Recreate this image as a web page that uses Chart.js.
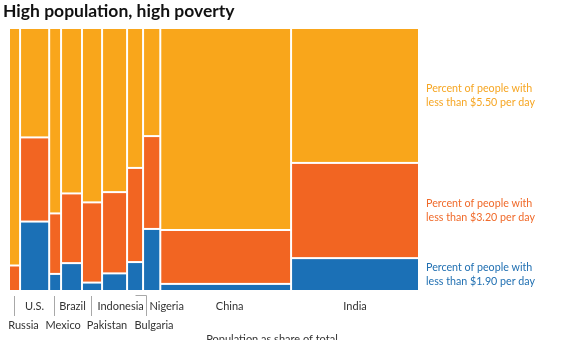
<!DOCTYPE html>
<html>
<head>
<meta charset="utf-8">
<title>High population, high poverty</title>
<script src="https://cdn.jsdelivr.net/npm/chart.js@4.4.1/dist/chart.umd.min.js"></script>
<style>
  html, body { margin: 0; padding: 0; background: #fff; }
  canvas { display: block; }
</style>
</head>
<body>
<canvas id="chartCanvas" width="563" height="340"></canvas>
<script>
// countries in drawing order, left to right
const countries = ["Russia", "U.S.", "Mexico", "Brazil", "Pakistan", "Indonesia", "Bulgaria", "Nigeria", "China", "India"];
// column width: population as share of total (%)
const popShare = [2.7, 7.1, 2.9, 5.1, 4.9, 6.1, 3.9, 4.2, 31.9, 31.2];
// stacked segments, bottom to top (% of each country's people)
const below190 = [0, 26.4, 6.5, 10.6, 3.2, 6.7, 11.0, 23.6, 2.7, 12.5];
const from190to320 = [9.7, 32.0, 23.0, 26.5, 30.5, 30.9, 35.8, 35.3, 20.5, 36.2];
const above320 = [90.3, 41.6, 70.5, 62.9, 66.3, 62.4, 53.2, 41.1, 76.8, 51.3];

const seriesNames = [
  ["Percent of people with", "less than $1.90 per day"],
  ["Percent of people with", "less than $3.20 per day"],
  ["Percent of people with", "less than $5.50 per day"]
];
const fillColors = ["#1b70b6", "#f26522", "#f9a61b"];
const textColors = ["#2170b2", "#f06a2a", "#f6a623"];

// where each country name sits under the axis
const labelRow = [2, 1, 2, 1, 2, 1, 2, 1, 1, 1];
const labelNudge = [9, 0, 8, 1, 15, 6, 19, 15, 4, 0];

const FONT = "Lato, 'Open Sans', sans-serif";

const mosaicPlugin = {
  id: "mosaic",
  afterDraw(chart) {
    const ctx = chart.ctx;
    const xs = chart.scales.x;
    const ys = chart.scales.y;
    const area = chart.chartArea;
    const segments = [below190, from190to320, above320];

    ctx.save();

    // title
    ctx.fillStyle = "#111";
    ctx.font = "bold 17.5px " + FONT;
    ctx.textBaseline = "middle";
    ctx.textAlign = "left";
    ctx.fillText("High population, high poverty", 3, 11);

    // rectangles
    let start = 0;
    const centers = [];
    countries.forEach((c, i) => {
      const x0 = xs.getPixelForValue(start);
      const x1 = xs.getPixelForValue(start + popShare[i]);
      centers.push((x0 + x1) / 2);
      let base = 0;
      segments.forEach((seg, s) => {
        const v = seg[i];
        if (v > 0) {
          const yb = ys.getPixelForValue(base);
          const yt = ys.getPixelForValue(base + v);
          ctx.fillStyle = fillColors[s];
          ctx.fillRect(x0 + 1, yt + 1, x1 - x0 - 2, yb - yt - 2);
        }
        base += v;
      });
      start += popShare[i];
    });

    // country names and leader lines
    ctx.font = "11px " + FONT;
    ctx.textAlign = "center";
    ctx.strokeStyle = "#a8a8a8";
    ctx.lineWidth = 1;
    countries.forEach((c, i) => {
      const cx = centers[i];
      ctx.fillStyle = "#333";
      if (labelRow[i] === 1) {
        ctx.fillText(c, cx + labelNudge[i], 306);
      } else {
        ctx.fillText(c, cx + labelNudge[i], 325);
        ctx.beginPath();
        if (c === "Bulgaria") {
          const lx = Math.round(cx + 11) + 0.5;
          ctx.moveTo(Math.round(cx) + 0.5, 295.5);
          ctx.lineTo(lx, 295.5);
          ctx.lineTo(lx, 316);
        } else {
          const lx = Math.round(cx - 1) + 0.5;
          ctx.moveTo(lx, 296);
          ctx.lineTo(lx, 316);
        }
        ctx.stroke();
      }
    });

    // axis caption
    ctx.fillStyle = "#333";
    ctx.fillText("Population as share of total", 272, 339);

    // series names beside the last column
    const last = countries.length - 1;
    let base = 0;
    ctx.textAlign = "left";
    ctx.font = "10.7px " + FONT;
    segments.forEach((seg, s) => {
      const v = seg[last];
      const mid = ys.getPixelForValue(base + v / 2);
      ctx.fillStyle = textColors[s];
      ctx.fillText(seriesNames[s][0], area.right + 7, mid - 7);
      ctx.fillText(seriesNames[s][1], area.right + 7, mid + 7);
      base += v;
    });

    ctx.restore();
  }
};

new Chart(document.getElementById("chartCanvas"), {
  type: "scatter",
  data: { datasets: [] },
  options: {
    responsive: false,
    animation: false,
    layout: { padding: { left: 9, top: 28, right: 144, bottom: 49 } },
    plugins: {
      legend: { display: false },
      title: { display: false },
      tooltip: { enabled: false }
    },
    scales: {
      x: { type: "linear", min: 0, max: 100, display: false },
      y: { type: "linear", min: 0, max: 100, display: false }
    }
  },
  plugins: [mosaicPlugin]
});
</script>
</body>
</html>
